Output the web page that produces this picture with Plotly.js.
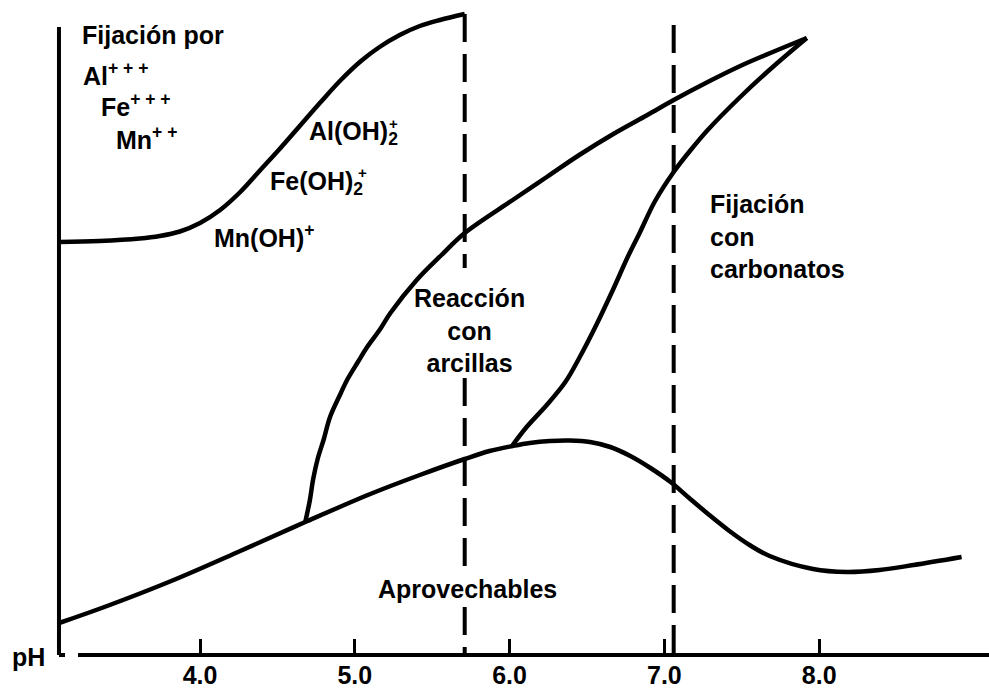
<!DOCTYPE html>
<html>
<head>
<meta charset="utf-8">
<script src="https://cdn.plot.ly/plotly-3.0.1.min.js"></script>
<style>
  html, body { margin: 0; padding: 0; background: #ffffff; }
  #chart { width: 989px; height: 692px; }
</style>
</head>
<body>
<div id="chart"></div>
<script>
// ---- Data (x = pH, y = relative amount of phosphate) ----
const fixAlPH   = [3.09, 3.35, 3.61, 3.74, 3.87, 4.00, 4.13, 4.26, 4.39, 4.52, 4.65, 4.78, 4.91, 5.04, 5.16, 5.29, 5.42, 5.55, 5.71];
const fixAlY    = [413, 414, 416.5, 419, 423.5, 432, 445, 463, 485, 507, 530, 553, 575, 594, 608, 620, 629, 635, 641];

const availPH   = [3.09, 3.40, 3.83, 4.26, 4.68, 5.10, 5.42, 5.71, 5.87, 6.02, 6.13, 6.26, 6.39, 6.52, 6.65, 6.78, 6.91, 7.04, 7.16, 7.29, 7.42, 7.55, 7.68, 7.96, 8.18, 8.39, 8.61, 8.92];
const availY    = [32, 49, 75, 104, 133, 161, 180, 196, 204, 209, 212, 214, 214.5, 213, 208, 199, 187, 173, 157, 140, 124, 110, 99, 86, 83, 85, 90, 98];

const clayPH    = [4.68, 4.71, 4.73, 4.76, 4.80, 4.84, 4.91, 4.95, 5.02, 5.08, 5.16, 5.23, 5.40, 5.56, 5.71, 6.02, 6.24, 6.45, 6.67, 6.89, 7.06, 7.28, 7.49, 7.70, 7.92];
const clayY     = [133, 155, 175, 196, 216, 238, 262, 275, 293, 308, 325, 342, 375, 400, 422, 455, 478, 500, 521, 540, 555, 573, 589, 603, 617];

const carbPH    = [6.02, 6.11, 6.24, 6.36, 6.45, 6.56, 6.67, 6.76, 6.84, 6.94, 7.06, 7.17, 7.28, 7.49, 7.70, 7.92];
const carbY     = [210, 228, 250, 273, 297, 330, 366, 397, 422, 454, 483, 505, 525, 558, 588, 617];

// boundaries (dashed): pH position and the visible stretches [top, bottom]
const boundaryPH       = [5.71, 7.06];
const boundarySegments = [
  [[641, 387], [277, 85], [48, 0]],
  [[630, 0]]
];

const tickVals  = [4, 5, 6, 7, 8];
const tickText  = ['4.0', '5.0', '6.0', '7.0', '8.0'];

// ---- Styling ----
const FONT = 'Liberation Sans, Arial, Helvetica, sans-serif';
const INK = '#000000';
const curveLine = { color: INK, width: 4.5, shape: 'spline', smoothing: 1 };

function curve(x, y) {
  return { x: x, y: y, type: 'scatter', mode: 'lines', line: curveLine, hoverinfo: 'skip', showlegend: false };
}

const traces = [
  curve(fixAlPH, fixAlY),
  curve(availPH, availY),
  curve(clayPH, clayY),
  curve(carbPH, carbY)
];

const shapes = [];
boundaryPH.forEach((p, i) => {
  boundarySegments[i].forEach(seg => {
    shapes.push({ type: 'line', xref: 'x', yref: 'y', x0: p, x1: p, y0: seg[0], y1: seg[1],
      line: { color: INK, width: 4, dash: '28px,12px' } });
  });
});
// axis lines (y axis with small foot, x axis starting after a gap)
shapes.push({ type: 'line', xref: 'x', yref: 'y', x0: 3.089, x1: 3.089, y0: 628, y1: 0, line: { color: INK, width: 4 } });
shapes.push({ type: 'line', xref: 'x', yref: 'y', x0: 3.089, x1: 3.128, y0: 0, y1: 0, line: { color: INK, width: 4 } });
shapes.push({ type: 'line', xref: 'x', yref: 'y', x0: 3.212, x1: 9.097, y0: 0, y1: 0, line: { color: INK, width: 4 } });

function label(text, x, y, opts) {
  return Object.assign({
    text: '<b>' + text + '</b>', x: x, y: y, xref: 'x', yref: 'y', showarrow: false,
    xanchor: 'left', yanchor: 'middle', align: 'left',
    font: { family: FONT, size: 25, color: INK }
  }, opts || {});
}

const annotations = [
  label('Fijación por', 3.225, 620),
  label('Al<sup>+ + +</sup>', 3.232, 581),
  label('Fe<sup>+ + +</sup>', 3.348, 550),
  label('Mn<sup>+ +</sup>', 3.445, 517),
  label('Al(OH)<sub>2</sub>', 4.690, 522),
  label('+', 5.247, 532, { xanchor: 'center', font: { family: FONT, size: 15, color: INK } }),
  label('Fe(OH)<sub>2</sub>', 4.440, 472),
  label('+', 5.047, 483, { xanchor: 'center', font: { family: FONT, size: 15, color: INK } }),
  label('Mn(OH)<sup>+</sup>', 4.075, 419),
  label('Reacción<br>con<br>arcillas', 5.744, 325, { xanchor: 'center', align: 'center' }),
  label('Aprovechables', 5.725, 66, { xanchor: 'center', align: 'center' }),
  label('Fijación<br>con<br>carbonatos', 7.280, 419),
  label('pH', -0.0224, 0.0122, { xref: 'paper', yref: 'paper', xanchor: 'center' })
];

const layout = {
  width: 989, height: 692,
  margin: { l: 50, r: 0, t: 10, b: 27 },
  paper_bgcolor: '#ffffff', plot_bgcolor: '#ffffff',
  showlegend: false,
  xaxis: {
    range: [3.031, 9.097], anchor: 'free', position: 0.01527,
    showgrid: false, zeroline: false, showline: false,
    ticks: 'inside', ticklen: 16, tickwidth: 3, tickcolor: INK,
    tickvals: tickVals, ticktext: tickText.map(t => '<b>' + t + '</b>'),
    tickfont: { family: FONT, size: 25, color: INK },
    ticklabelstandoff: 3,
    fixedrange: true
  },
  yaxis: {
    range: [-10, 645], visible: false, showgrid: false, zeroline: false, fixedrange: true
  },
  shapes: shapes,
  annotations: annotations
};

Plotly.newPlot('chart', traces, layout, { staticPlot: true, displayModeBar: false });
</script>
</body>
</html>
